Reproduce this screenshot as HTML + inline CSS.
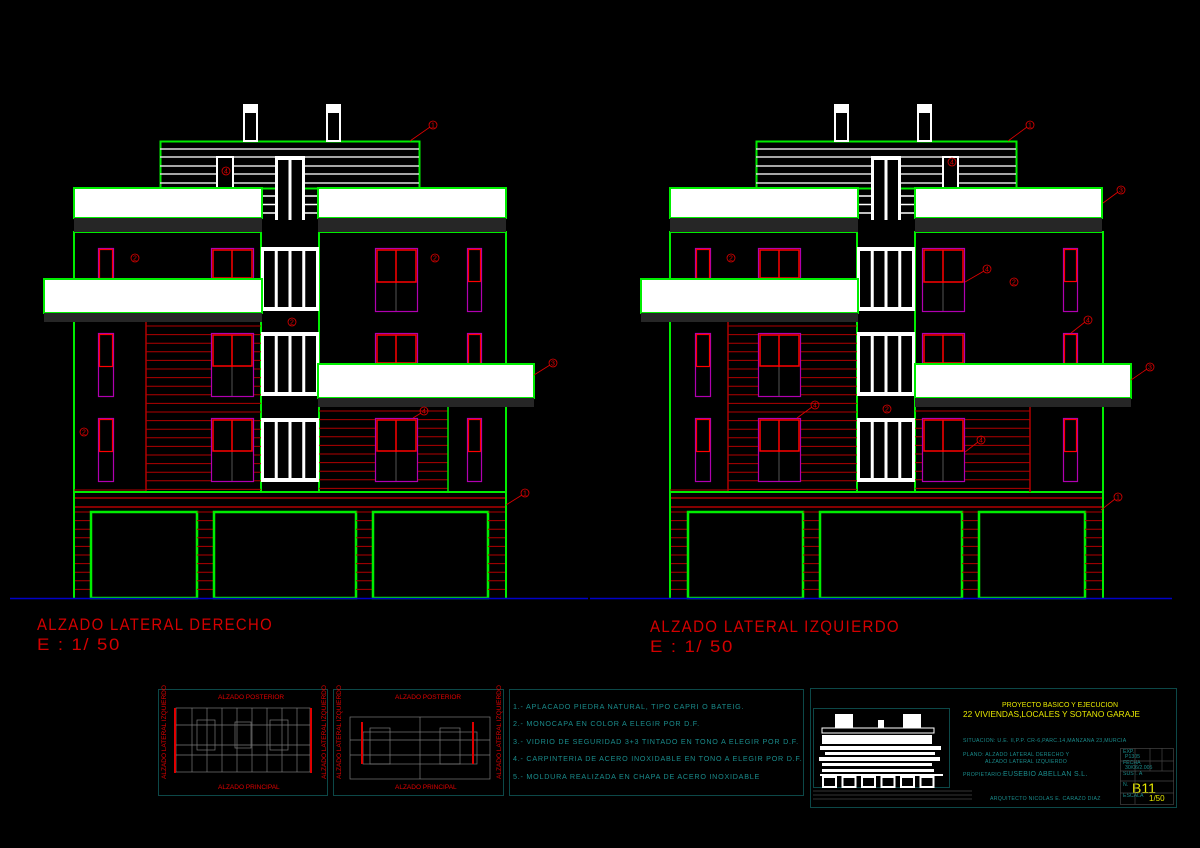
<!DOCTYPE html>
<html><head><meta charset="utf-8">
<style>
html,body{margin:0;padding:0;background:#000;width:1200px;height:848px;overflow:hidden}
svg{display:block}
.t{font-family:"Liberation Sans",sans-serif;}
</style></head>
<body>
<svg id="s" width="1200" height="848" viewBox="0 0 1200 848" xmlns="http://www.w3.org/2000/svg">
<rect width="1200" height="848" fill="#000"/>
<g id="bld"></g>
<line x1="10" y1="598.5" x2="588" y2="598.5" stroke="#0000c8" stroke-width="1.5"/>
<line x1="590" y1="598.5" x2="1172" y2="598.5" stroke="#0000c8" stroke-width="1.5"/>

<g class="t" fill="none" stroke="#e00000" stroke-width="0.8" font-size="7">
<g id="labs"></g>
</g>

<g class="t" fill="#d40000" font-size="17" letter-spacing="1.5">
<text x="37" y="630" textLength="236" lengthAdjust="spacingAndGlyphs">ALZADO LATERAL DERECHO</text>
<text x="37" y="650" textLength="84" lengthAdjust="spacingAndGlyphs">E : 1/ 50</text>
<text x="650" y="632" textLength="250" lengthAdjust="spacingAndGlyphs">ALZADO LATERAL IZQUIERDO</text>
<text x="650" y="652" textLength="84" lengthAdjust="spacingAndGlyphs">E : 1/ 50</text>
</g>

<g fill="none" stroke="#0c4848" stroke-width="1">
<rect x="158.5" y="689.5" width="169" height="106"/>
<rect x="333.5" y="689.5" width="170" height="106"/>
<rect x="509.5" y="689.5" width="294" height="106"/>
<rect x="810.5" y="688.5" width="366" height="119"/>
<rect x="813.5" y="708.5" width="136" height="79"/>
</g>
<g id="plans" fill="none" stroke="#7a7a7a" stroke-width="0.7"></g>
<g class="t" fill="#e00000" font-size="6.5">
<text x="218" y="699">ALZADO POSTERIOR</text>
<text x="218" y="789">ALZADO PRINCIPAL</text>
<text x="395" y="699">ALZADO POSTERIOR</text>
<text x="395" y="789">ALZADO PRINCIPAL</text>
<text transform="translate(166,779) rotate(-90)">ALZADO LATERAL IZQUIERDO</text>
<text transform="translate(326,779) rotate(-90)">ALZADO LATERAL IZQUIERDO</text>
<text transform="translate(341,779) rotate(-90)">ALZADO LATERAL IZQUIERDO</text>
<text transform="translate(501,779) rotate(-90)">ALZADO LATERAL IZQUIERDO</text>
</g>
<g class="t" fill="#1a8c8c" font-size="7.2" letter-spacing="0.75">
<text x="513" y="709">1.- APLACADO PIEDRA NATURAL, TIPO CAPRI O BATEIG.</text>
<text x="513" y="726">2.- MONOCAPA  EN COLOR A ELEGIR POR D.F.</text>
<text x="513" y="744">3.- VIDRIO DE SEGURIDAD 3+3 TINTADO EN TONO A ELEGIR POR D.F.</text>
<text x="513" y="761">4.- CARPINTERIA DE ACERO INOXIDABLE EN TONO A ELEGIR POR D.F.</text>
<text x="513" y="779">5.- MOLDURA REALIZADA EN CHAPA DE ACERO INOXIDABLE</text>
</g>
<g id="mini"></g>
<g class="t">
<text x="1002" y="707" fill="#e8e800" font-size="7" textLength="116" lengthAdjust="spacingAndGlyphs">PROYECTO BASICO Y EJECUCION</text>
<text x="963" y="717" fill="#e8e800" font-size="8.5" textLength="177" lengthAdjust="spacingAndGlyphs">22 VIVIENDAS,LOCALES Y SOTANO GARAJE</text>
<g fill="#1a8c8c" font-size="5.2" letter-spacing="0.3">
<text x="963" y="742">SITUACION: U.E. II,P.P. CR-6,PARC.14,MANZANA 23,MURCIA</text>
<text x="963" y="756">PLANO: ALZADO LATERAL DERECHO Y</text>
<text x="985" y="763">ALZADO LATERAL IZQUIERDO</text>
<text x="963" y="776">PROPIETARIO:</text>
<text x="1003" y="776" font-size="7">EUSEBIO ABELLAN S.L.</text>
<text x="990" y="800">ARQUITECTO    NICOLAS E. CARAZO DIAZ</text>
</g>
<g fill="#1a8c8c" font-size="5.2">
<text x="1123" y="753">EXP.</text><text x="1125" y="758">P1305</text>
<text x="1123" y="764">FECHA</text><text x="1125" y="769">30/06/2.005</text>
<text x="1123" y="775">SUST. A</text>
<text x="1123" y="786">N.</text>
<text x="1123" y="797">ESCALA</text>
</g>
<text x="1132" y="793" fill="#e8e800" font-size="14">B11</text>
<text x="1149" y="801" fill="#e8e800" font-size="8">1/50</text>
</g>
<g fill="none" stroke="#444" stroke-width="0.7">
<rect x="1120.5" y="748.5" width="53" height="56"/>
<line x1="1120" y1="761" x2="1174" y2="761"/><line x1="1120" y1="771" x2="1174" y2="771"/>
<line x1="1120" y1="781" x2="1174" y2="781"/><line x1="1120" y1="793" x2="1174" y2="793"/>
<line x1="1135" y1="748" x2="1135" y2="804"/><line x1="1150" y1="748" x2="1150" y2="771"/><line x1="1162" y1="748" x2="1162" y2="771"/>
<line x1="813" y1="791" x2="972" y2="791"/><line x1="813" y1="795" x2="972" y2="795"/><line x1="813" y1="799" x2="972" y2="799"/>
</g>
</svg>
<script>
(function(){
var g=document.getElementById('bld');
var out='';
function R(x,y,w,h,f,s,sw){out+='<rect x="'+x+'" y="'+y+'" width="'+w+'" height="'+h+'" fill="'+(f||'none')+'"'+(s?' stroke="'+s+'" stroke-width="'+(sw||1)+'"':'')+'/>';}
function L(x1,y1,x2,y2,s,sw){out+='<line x1="'+x1+'" y1="'+y1+'" x2="'+x2+'" y2="'+y2+'" stroke="'+s+'" stroke-width="'+(sw||1)+'"/>';}
var G='#00ee00',W='#ffffff',DG='#262626',RD='#b00000',MG='#b000b0',RR='#ff0000';
function siding(x1,x2,y1,y2){for(var y=y1+4;y<y2;y+=8.6)L(x1,y,x2,y,RD,1);}
function tw(x,w,y1,y2,div){R(x+.5,y1+.5,w,y2-y1,'#000',MG,1.2);if(div){R(x+1.5,y1+1.5,w-2,div-y1-2,'none',RR,1.2);}else R(x+1.5,y1+1.5,w-2,y2-y1-2,'none',RR,1.2);}
function dw(x,w,y1,y2,div){R(x+.5,y1+.5,w,y2-y1,'#000',MG,1.2);var d=div||y2;R(x+2,y1+2,w-3,d-y1-3,'none',RR,1.5);L(x+w/2,y1+2,x+w/2,d,RR,1.5);if(div)L(x+w/2,div,x+w/2,y2,'#555',1);}
function stairWin(x1,x2,y1,y2){R(x1,y1,x2-x1,y2-y1,W);var n=4,inner=(x2-x1-3*(n+1))/n;for(var i=0;i<n;i++)R(x1+3+i*(inner+3),y1+4,inner,y2-y1-8,'#000');}
function B(p){
 R(p.ph[0]+.5,141.5,p.ph[1]-p.ph[0],47,'#000',G,2);
 [149,157,166,174,183].forEach(function(y){L(p.ph[0],y,p.ph[1],y,'#ddd',1.5);});
 p.ch.forEach(function(c){R(c,105,13,36,'#000',W,2);R(c,105,13,8,W);});
 R(p.ps[0],156,p.ps[1]-p.ps[0],64,W);R(p.ps[0]+3,160,(p.ps[1]-p.ps[0]-9)/2,60,'#000');R(p.ps[0]+6+(p.ps[1]-p.ps[0]-9)/2,160,(p.ps[1]-p.ps[0]-9)/2,60,'#000');
 for(var y=196;y<220;y+=8.5){L(p.st[0],y,p.ps[0],y,W,1.5);L(p.ps[1],y,p.st[1],y,W,1.5);}
 R(p.pw[0],157,p.pw[1]-p.pw[0],31,'#000',W,2);
 R(p.x0,232,p.st[0]-p.x0,260,'#000',G,2);
 R(p.st[1],232,p.x1-p.st[1],260,'#000',G,2);
 L(p.st[0],232,p.st[0],492,G,2);L(p.st[1],232,p.st[1],492,G,2);L(p.st[0],492,p.st[1],492,G,2);
 siding(p.ls[0],p.ls[1],322,490);L(p.ls[0],322,p.ls[0],491,RD,1.5);L(p.x0,490,p.ls[0],490,RD,1);
 siding(p.rs[0],p.rs[1],407,490);L(p.rs[1],407,p.rs[1],492,p.gr?G:RD,1.5);
 stairWin(p.st[0],p.st[1],247,311);stairWin(p.st[0],p.st[1],332,396);stairWin(p.st[0],p.st[1],418,482);
 tw(p.tl,15,248,279,0);tw(p.tl,15,333,396,367);tw(p.tl,15,418,481,452);
 dw(p.dl,42,248,279,0);dw(p.dl,42,333,396,367);dw(p.dl,42,418,481,452);
 dw(p.dr,42,248,311,283);dw(p.dr,42,333,364,0);dw(p.dr,42,418,481,452);
 tw(p.tr,14,248,311,282);tw(p.tr,14,333,364,0);tw(p.tr,14,418,481,452);
 function bal(x1,x2,y1,y2){R(x1,y1,x2-x1,y2-y1,W,G,2);R(x1,y2,x2-x1,9,DG);}
 bal(p.b1[0],p.b1[1],188,218);R(p.b1[0],218,p.b1[1]-p.b1[0],14,DG);
 bal(p.b2[0],p.b2[1],188,218);R(p.b2[0],218,p.b2[1]-p.b2[0],14,DG);
 bal(p.b3[0],p.b3[1],279,313);
 bal(p.b4[0],p.b4[1],364,398);
 L(p.x0,498,p.x1,498,RD,1.5);L(p.x0,507,p.x1,507,RD,1.5);
 var prev=p.x0;
 p.gar.forEach(function(gg){siding(prev,gg[0],508,598);R(gg[0],512,gg[1]-gg[0],86,'#000',G,2.5);prev=gg[1];});
 siding(prev,p.x1,508,598);
 L(p.x0,492,p.x0,598,G,2);L(p.x1,492,p.x1,598,G,2);
}
B({x0:74,x1:506,st:[261,319],ph:[160,419],ch:[244,327],ps:[275,305],pw:[217,233],ls:[146,261],rs:[319,448],gr:1,
 tl:98,dl:211,dr:375,tr:467,b1:[74,262],b2:[318,506],b3:[44,262],b4:[318,534],gar:[[91,197],[214,356],[373,488]]});
B({x0:670,x1:1103,st:[857,915],ph:[756,1016],ch:[835,918],ps:[871,901],pw:[943,958],ls:[728,857],rs:[915,1030],gr:0,
 tl:695,dl:758,dr:922,tr:1063,b1:[670,858],b2:[915,1102],b3:[641,858],b4:[915,1131],gar:[[688,803],[820,962],[979,1085]]});
g.innerHTML=out;

var lb='';
function C(cx,cy,n,lx,ly){lb+='<circle cx="'+cx+'" cy="'+cy+'" r="4"/>';lb+='<text x="'+(cx-2)+'" y="'+(cy+2.5)+'" fill="#e00000" stroke="none">'+n+'</text>';if(lx)lb+='<line x1="'+(cx-3)+'" y1="'+(cy+2)+'" x2="'+lx+'" y2="'+ly+'"/>';}
C(433,125,1,410,141);C(226,171,4);C(135,258,2);C(435,258,2);C(292,322,2);C(553,363,3,534,375);C(424,411,4,413,418);C(84,432,2);C(525,493,1,506,505);
C(1030,125,1,1008,141);C(952,162,4);C(1121,190,3,1103,203);C(731,258,2);C(987,269,4,965,282);C(1014,282,2);C(1088,320,4,1071,333);C(1150,367,3,1131,380);C(815,405,4,797,418);C(887,409,2);C(981,440,4,965,452);C(1118,497,1,1101,510);
document.getElementById('labs').innerHTML=lb;

var pl='';
function P(x,y,w,h){pl+='<rect x="'+x+'" y="'+y+'" width="'+w+'" height="'+h+'"/>';}
P(176,708,134,64);
for(var i=0;i<8;i++)pl+='<line x1="'+(192+i*15)+'" y1="708" x2="'+(192+i*15)+'" y2="772"/>';
pl+='<line x1="176" y1="725" x2="310" y2="725"/><line x1="176" y1="745" x2="310" y2="745"/><line x1="176" y1="755" x2="310" y2="755"/>';
P(197,720,18,30);P(270,720,18,30);P(235,722,16,26);
P(350,717,140,62);P(363,732,114,32);pl+='<line x1="420" y1="717" x2="420" y2="779"/><line x1="350" y1="740" x2="490" y2="740"/><line x1="350" y1="755" x2="490" y2="755"/>';
P(370,728,20,36);P(440,728,20,36);
document.getElementById('plans').innerHTML=pl+'<g stroke="#e00000" stroke-width="2"><line x1="175" y1="708" x2="175" y2="773"/><line x1="311" y1="708" x2="311" y2="773"/><line x1="362" y1="722" x2="362" y2="764"/><line x1="473" y1="722" x2="473" y2="764"/></g>';

var m='<g fill="#fff">';
m+='<rect x="835" y="714" width="18" height="14"/><rect x="903" y="714" width="18" height="14"/><rect x="878" y="720" width="6" height="8"/>';
m+='<rect x="822" y="735" width="110" height="9"/><rect x="820" y="746" width="121" height="4"/><rect x="825" y="752" width="110" height="3"/>';
m+='<rect x="819" y="757" width="121" height="4"/><rect x="822" y="763" width="110" height="3"/><rect x="822" y="769" width="112" height="3"/>';
m+='<rect x="820" y="774" width="123" height="2"/>';
for(var i=0;i<6;i++)m+='<rect x="'+(823+i*19.5)+'" y="777" width="13" height="10" fill="none" stroke="#fff" stroke-width="2"/>';
m+='<rect x="822" y="728" width="112" height="5" fill="none" stroke="#fff"/>';
m+='</g>';
document.getElementById('mini').innerHTML=m;
})();
</script>
</body></html>
